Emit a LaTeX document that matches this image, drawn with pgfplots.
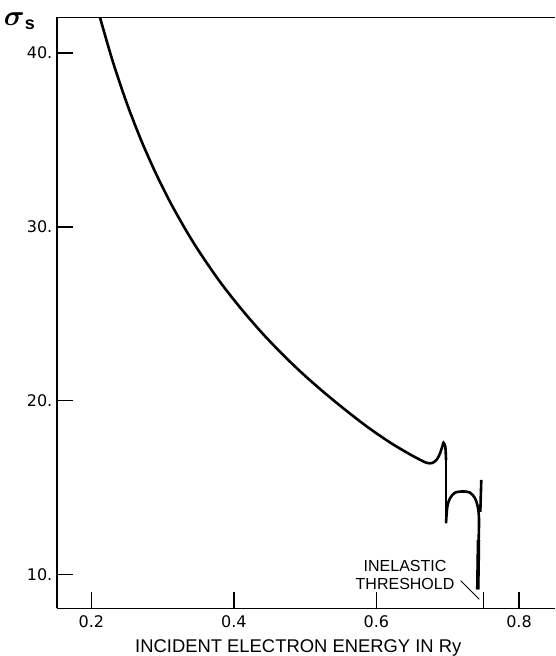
\documentclass[border=0pt]{standalone}
\usepackage{amsmath}
\usepackage{pgfplots}
\pgfplotsset{compat=1.18}
\usepackage{fontspec}
\setmainfont{Liberation Sans}
\newfontfamily\dejavu{DejaVu Sans}

\begin{document}
\begin{tikzpicture}
\begin{axis}[
  at={(0,0)}, anchor=south west,
  scale only axis, width=249.15pt, height=295.5pt,
  xmin=0.1514, xmax=0.8505, ymin=8.06, ymax=42.04,
  axis x line=box, axis y line=left,
  axis line style={-, line width=0.85pt},
  xtick={0.2,0.4,0.6,0.75,0.8}, xticklabels={0.2,0.4,0.6,,0.8},
  ytick={10,20,30,40}, yticklabels={10.,20.,30.,40.},
  xtick pos=left, ytick pos=left, tick align=inside,
  major tick length=8.3pt,
  every tick/.style={black, line width=0.65pt},
  xticklabel style={font=\dejavu\fontsize{8}{9}\selectfont, anchor=north, inner sep=0pt, yshift=-3.4pt},
  yticklabel style={font=\dejavu\fontsize{8}{9}\selectfont, anchor=east, inner sep=0pt, xshift=-2pt},
  /pgf/number format/assume math mode=true,
  xlabel={INCIDENT ELECTRON ENERGY IN Ry},
  xlabel style={at={(axis description cs:0.4848,0)}, anchor=base, yshift=-22.1pt, font=\fontsize{9.2}{11}\selectfont, inner sep=0pt},
]
% main smooth descent up to the first resonance peak
\addplot[black, line width=1.3pt, smooth, tension=0.5] coordinates {
 (0.2122,42.03) (0.23,39.52) (0.25,37.08) (0.27,34.97) (0.29,33.12)
 (0.31,31.47) (0.33,30.00) (0.35,28.66) (0.38,26.87) (0.41,25.30)
 (0.44,23.88) (0.47,22.60) (0.50,21.43) (0.53,20.36) (0.56,19.36)
 (0.59,18.42) (0.62,17.58) (0.645,16.97) (0.658,16.68) (0.6660,16.51)
 (0.6720,16.42) (0.6785,16.43) (0.6846,16.62) (0.6892,16.98) (0.6930,17.46)
 (0.6940,17.59) (0.6966,17.36) (0.6976,16.60)
};
% vertical drop
\addplot[black, line width=1.3pt] coordinates {
 (0.6976,16.60) (0.6976,12.96)
};
% arc up to the threshold
\addplot[black, line width=1.3pt, smooth, tension=0.5] coordinates {
 (0.6976,12.96) (0.6994,13.91) (0.7032,14.40) (0.7102,14.72) (0.7219,14.79)
 (0.7313,14.72) (0.7383,14.40) (0.7421,13.91) (0.7439,13.15) (0.7429,11.23)
 (0.7421,9.16)
};
% thicker lower stroke at threshold
\addplot[black, line width=1.8pt] coordinates {
 (0.7431,12.0) (0.7429,11.23) (0.7421,9.16)
};
% short vertical line at threshold
\addplot[black, line width=1.3pt] coordinates {
 (0.7471,15.45) (0.7457,13.61)
};
\node[align=center, font=\fontsize{8}{8.8}\selectfont, inner sep=0pt] at (axis cs:0.6401,9.99) {INELASTIC\\THRESHOLD};
\draw[line width=0.5pt] (axis cs:0.7182,9.66) -- (axis cs:0.7443,8.59);
\end{axis}
\node[inner sep=0pt] at (-18.4pt,293.5pt) {\fontsize{14}{16}\selectfont$\boldsymbol{\sigma}_{\mbox{\fontsize{9}{10}\selectfont\bfseries s}}$};
\pgfresetboundingbox
\path[use as bounding box] (-28.35pt,-23.75pt) rectangle (249.15pt,304.25pt);
\end{tikzpicture}
\end{document}
